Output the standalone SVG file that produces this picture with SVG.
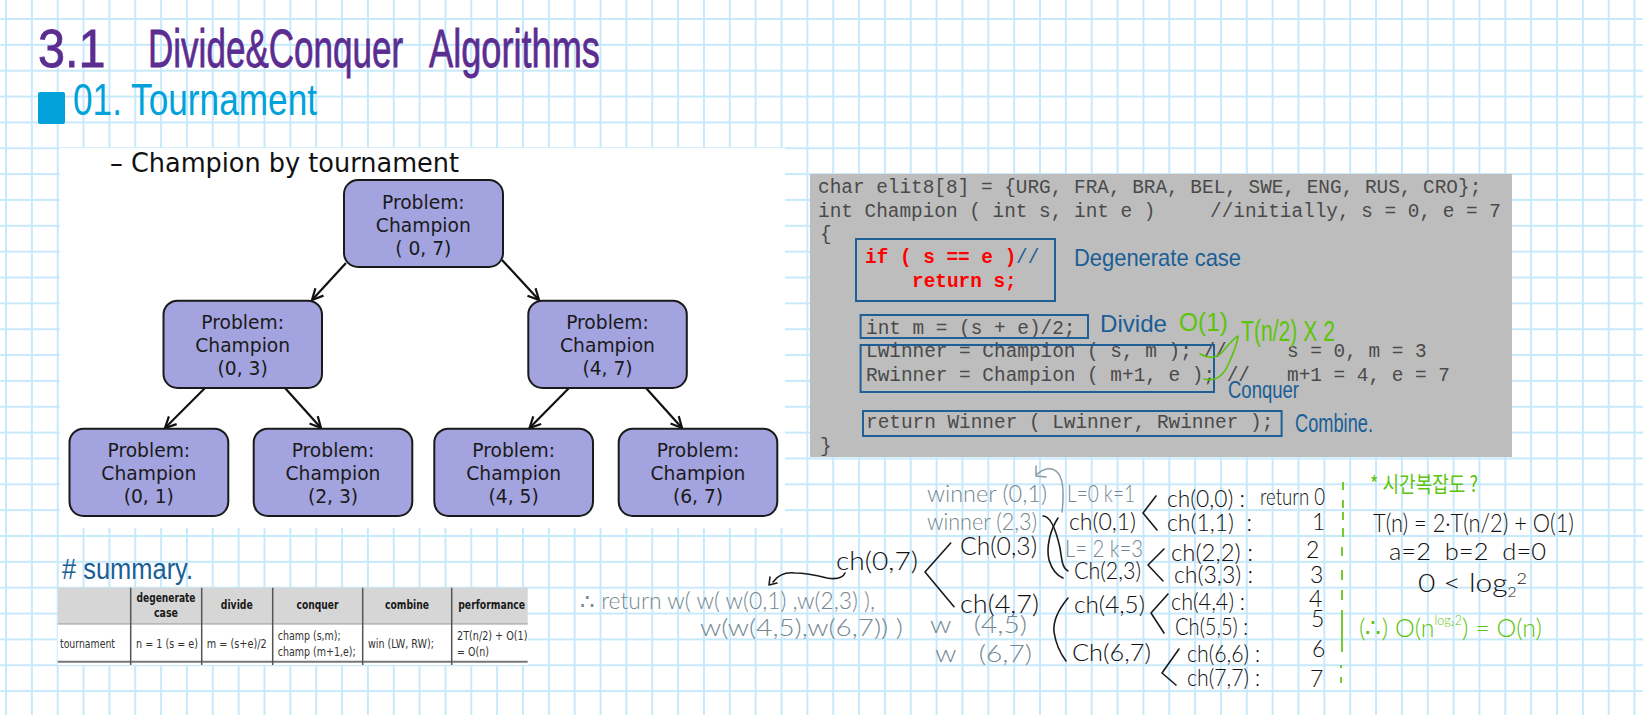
<svg xmlns="http://www.w3.org/2000/svg" width="1643" height="715" viewBox="0 0 1643 715">
<style>
text{white-space:pre}
.hw{font-family:"Liberation Sans",Arial,sans-serif}
.lt{font-family:Lato,"Liberation Sans",sans-serif;font-weight:300}
.dv{font-family:"DejaVu Sans",sans-serif}
.mono{font-family:"Liberation Mono",monospace;font-size:19.4px;fill:#4a4a4a}
.red{font-weight:700;fill:#ff0000}
.node rect{fill:#a3a3df;stroke:#1a1a1a;stroke-width:2}
.node text{font-family:"DejaVu Sans",sans-serif;font-size:18.7px;fill:#1a1a1a;text-anchor:middle}
.edge{fill:none;stroke:#111;stroke-width:2.2;marker-end:url(#arr)}
.bx{fill:none;stroke:#1f5f96;stroke-width:2}
.blue{fill:#1a5e96;font-size:24px}
.green{fill:#5cc40a;font-size:24px}
.gray{fill:#748790;font-size:23px}
.blk{fill:#111;font-size:23px}
.pk{fill:none;stroke:#1a1a1a;stroke-width:1.6;stroke-linecap:round;stroke-linejoin:round}
.th{font-family:"DejaVu Sans",sans-serif;font-size:12px;font-weight:700;fill:#1a1a1a;text-anchor:middle}
.td{font-family:"DejaVu Sans",sans-serif;font-size:11.5px;fill:#333}
.sep{stroke:#555;stroke-width:1.5}
</style>
<defs>
<pattern id="grid" patternUnits="userSpaceOnUse" x="6" y="19" width="25.85" height="25.85">
<path d="M0 0V25.85M25.85 0V25.85M0 0H25.85M0 25.85H25.85" fill="none" stroke="#c8e9fb" stroke-width="2"/>
</pattern>
<marker id="arr" markerUnits="userSpaceOnUse" markerWidth="16" markerHeight="16" refX="12" refY="6.500" orient="auto">
<path d="M1 1L12 6.500L1 12" fill="none" stroke="#111" stroke-width="2.200"/>
</marker>
</defs>
<rect width="1643" height="715" fill="#ffffff"/>
<rect width="1643" height="715" fill="url(#grid)"/>

<g id="title">
<text class="hw" transform="matrix(.9 0 0 1 38 67)" font-size="54" fill="#5b2d91" stroke="#5b2d91" stroke-width=".8">3.1</text>
<text class="hw" transform="matrix(.649 0 0 1 148 67)" font-size="54" fill="#5b2d91" stroke="#5b2d91" stroke-width=".8">Divide&amp;Conquer</text>
<text class="hw" transform="matrix(.67 0 0 1 429 67)" font-size="54" fill="#5b2d91" stroke="#5b2d91" stroke-width=".8">Algorithms</text>
<rect x="38" y="92" width="27" height="32" rx="2" fill="#00a2d9"/>
<text class="hw" x="73" y="115" font-size="44" fill="#00a2d9" textLength="244" lengthAdjust="spacingAndGlyphs">01. Tournament</text>
</g>

<rect x="60" y="148" width="725" height="380" fill="#ffffff"/>
<text class="dv" x="110" y="172" font-size="26" fill="#111" textLength="349" lengthAdjust="spacingAndGlyphs">– Champion by tournament</text>

<g id="connectors">
<path class="edge" d="M346 263L312 300"/>
<path class="edge" d="M502 260L539 300"/>
<path class="edge" d="M205 388L165 428"/>
<path class="edge" d="M285 388L321 428"/>
<path class="edge" d="M569 388L529.500 428"/>
<path class="edge" d="M646 388L682 428"/>
</g>
<g id="n07" class="node"><rect x="344" y="180" width="159" height="87" rx="14"/><text x="423.300" y="209">Problem:</text><text x="423.300" y="232">Champion</text><text x="423.300" y="255">( 0, 7)</text></g>
<g id="n03" class="node"><rect x="163.500" y="300.700" width="158.500" height="87.300" rx="14"/><text x="242.700" y="329">Problem:</text><text x="242.700" y="352">Champion</text><text x="242.700" y="375">(0, 3)</text></g>
<g id="n47" class="node"><rect x="528.300" y="300.700" width="158.500" height="87.300" rx="14"/><text x="607.500" y="329">Problem:</text><text x="607.500" y="352">Champion</text><text x="607.500" y="375">(4, 7)</text></g>
<g id="n01" class="node"><rect x="69.500" y="428.700" width="158.800" height="87.300" rx="14"/><text x="148.800" y="457">Problem:</text><text x="148.800" y="480">Champion</text><text x="148.800" y="503">(0, 1)</text></g>
<g id="n23" class="node"><rect x="253.700" y="428.700" width="158.600" height="87.300" rx="14"/><text x="333" y="457">Problem:</text><text x="333" y="480">Champion</text><text x="333" y="503">(2, 3)</text></g>
<g id="n45" class="node"><rect x="434.300" y="428.700" width="158.700" height="87.300" rx="14"/><text x="513.700" y="457">Problem:</text><text x="513.700" y="480">Champion</text><text x="513.700" y="503">(4, 5)</text></g>
<g id="n67" class="node"><rect x="618.700" y="428.700" width="158.600" height="87.300" rx="14"/><text x="698" y="457">Problem:</text><text x="698" y="480">Champion</text><text x="698" y="503">(6, 7)</text></g>

<g id="code">
<rect x="810" y="174" width="702" height="283" fill="#bdbdbd"/>
<text class="mono" x="818" y="193">char elit8[8] = {URG, FRA, BRA, BEL, SWE, ENG, RUS, CRO};</text>
<text class="mono" x="818" y="216.700">int Champion ( int s, int e )<tspan x="1210">//initially, s = 0, e = 7</tspan></text>
<text class="mono" x="820" y="240">{</text>
<text class="mono red" x="865" y="263">if ( s == e )</text>
<text class="mono" x="1016" y="263" style="fill:#1f5f96">//</text>
<text class="mono red" x="912" y="287">return s;</text>
<text class="mono" x="866" y="334">int m = (s + e)/2;</text>
<text class="mono" x="866" y="357">Lwinner = Champion ( s, m ); //</text>
<text class="mono" x="1287" y="357">s = 0, m = 3</text>
<text class="mono" x="866" y="381">Rwinner = Champion ( m+1, e ); //</text>
<text class="mono" x="1287" y="381">m+1 = 4, e = 7</text>
<text class="mono" x="866" y="428">return Winner ( Lwinner, Rwinner );</text>
<text class="mono" x="820" y="452">}</text>
<rect class="bx" x="856" y="239" width="199" height="62"/>
<rect class="bx" x="860.600" y="315" width="227.400" height="23"/>
<rect class="bx" x="860.600" y="345" width="353.400" height="47"/>
<rect class="bx" x="863" y="411" width="418.600" height="25"/>
<text class="hw blue" x="1074" y="266" textLength="167" lengthAdjust="spacingAndGlyphs">Degenerate case</text>
<text class="hw blue" x="1100" y="332" textLength="67" lengthAdjust="spacingAndGlyphs">Divide</text>
<text class="hw green" x="1179" y="331" textLength="49" lengthAdjust="spacingAndGlyphs" style="font-size:26px">O(1)</text>
<text class="hw green" x="1241" y="341" textLength="94" lengthAdjust="spacingAndGlyphs" style="font-size:29px">T(n/2) X 2</text>
<text class="hw blue" x="1228" y="398" textLength="71" lengthAdjust="spacingAndGlyphs">Conquer</text>
<text class="hw blue" x="1295" y="432" textLength="78" lengthAdjust="spacingAndGlyphs" style="font-size:26px">Combine.</text>
<path d="M1200 354Q1215 362 1224 350Q1234 338 1238 336M1204 379Q1220 383 1228 365Q1236 348 1238 337" fill="none" stroke="#5cc40a" stroke-width="1.6" stroke-linecap="round"/>
</g>

<g id="summary">
<text class="hw" x="62" y="579" font-size="30" fill="#1a5e96" textLength="131" lengthAdjust="spacingAndGlyphs"># summary.</text>
<rect x="57.700" y="587.700" width="470" height="36.300" fill="#d6d6d6"/>
<rect x="57.700" y="624" width="470" height="41" fill="#ffffff"/>
<path d="M57.700 624H527.700" stroke="#999" stroke-width="1"/>
<path d="M57.700 661.700H527.700" stroke="#777" stroke-width="2"/>
<path class="sep" d="M130.700 587.700V665M201.700 587.700V665M272.700 587.700V665M362.700 587.700V665M451.700 587.700V665"/>
<text class="th" x="166" y="602" textLength="59" lengthAdjust="spacingAndGlyphs">degenerate</text>
<text class="th" x="166" y="617" textLength="24" lengthAdjust="spacingAndGlyphs">case</text>
<text class="th" x="236.800" y="609" textLength="32" lengthAdjust="spacingAndGlyphs">divide</text>
<text class="th" x="317.500" y="609" textLength="42" lengthAdjust="spacingAndGlyphs">conquer</text>
<text class="th" x="407" y="609" textLength="44" lengthAdjust="spacingAndGlyphs">combine</text>
<text class="th" x="491.700" y="609" textLength="67" lengthAdjust="spacingAndGlyphs">performance</text>
<text class="td" x="60" y="648" textLength="55" lengthAdjust="spacingAndGlyphs">tournament</text>
<text class="td" x="136" y="648" textLength="62" lengthAdjust="spacingAndGlyphs">n = 1 (s = e)</text>
<text class="td" x="206.700" y="648" textLength="60" lengthAdjust="spacingAndGlyphs">m = (s+e)/2</text>
<text class="td" x="277.700" y="640" textLength="63" lengthAdjust="spacingAndGlyphs">champ (s,m);</text>
<text class="td" x="277.700" y="656" textLength="78" lengthAdjust="spacingAndGlyphs">champ (m+1,e);</text>
<text class="td" x="368" y="648" textLength="66" lengthAdjust="spacingAndGlyphs">win (LW, RW);</text>
<text class="td" x="457" y="640" textLength="70.500" lengthAdjust="spacingAndGlyphs">2T(n/2) + O(1)</text>
<text class="td" x="457" y="656" textLength="32" lengthAdjust="spacingAndGlyphs">= O(n)</text>
</g>

<g id="notes-gray">
<text class="lt gray" x="580" y="609" textLength="295" lengthAdjust="spacingAndGlyphs">∴ return w( w( w(0,1) ,w(2,3) ),</text>
<text class="lt gray" x="700" y="636" textLength="203" lengthAdjust="spacingAndGlyphs">w(w(4,5),w(6,7)) )</text>
<text class="lt gray" x="927" y="502" textLength="120" lengthAdjust="spacingAndGlyphs">winner (0,1)</text>
<text class="lt gray" x="927" y="530" textLength="110" lengthAdjust="spacingAndGlyphs">winner (2,3)</text>
<text class="lt gray" x="1067" y="502" textLength="68" lengthAdjust="spacingAndGlyphs">L=0 k=1</text>
<text class="lt gray" x="1065" y="557" textLength="78" lengthAdjust="spacingAndGlyphs">L= 2 k=3</text>
<text class="lt gray" x="930" y="633" textLength="97" lengthAdjust="spacingAndGlyphs">w   (4,5)</text>
<text class="lt gray" x="935" y="662" textLength="97" lengthAdjust="spacingAndGlyphs">w   (6,7)</text>
</g>

<g id="notes-black">
<text class="lt blk" x="836" y="570" textLength="82" lengthAdjust="spacingAndGlyphs" style="font-size:25px">ch(0,7)</text>
<text class="lt blk" x="960" y="555" textLength="77" lengthAdjust="spacingAndGlyphs" style="font-size:25px">Ch(0,3)</text>
<text class="lt blk" x="960" y="613" textLength="79" lengthAdjust="spacingAndGlyphs" style="font-size:25px">ch(4,7)</text>
<text class="lt blk" x="1069" y="530" textLength="67" lengthAdjust="spacingAndGlyphs">ch(0,1)</text>
<text class="lt blk" x="1074" y="579" textLength="67" lengthAdjust="spacingAndGlyphs">Ch(2,3)</text>
<text class="lt blk" x="1074" y="613" textLength="71" lengthAdjust="spacingAndGlyphs">ch(4,5)</text>
<text class="lt blk" x="1072" y="661" textLength="79" lengthAdjust="spacingAndGlyphs">Ch(6,7)</text>
<text class="lt blk" x="1167" y="507" textLength="78" lengthAdjust="spacingAndGlyphs">ch(0,0) :</text>
<text class="lt blk" x="1260" y="505" textLength="65" lengthAdjust="spacingAndGlyphs">return 0</text>
<text class="lt blk" x="1167" y="531" textLength="85" lengthAdjust="spacingAndGlyphs">ch(1,1)  :</text>
<text class="lt blk" x="1312" y="530">1</text>
<text class="lt blk" x="1171" y="561" textLength="82" lengthAdjust="spacingAndGlyphs">ch(2,2) :</text>
<text class="lt blk" x="1306" y="558">2</text>
<text class="lt blk" x="1174" y="583" textLength="79" lengthAdjust="spacingAndGlyphs">ch(3,3) :</text>
<text class="lt blk" x="1310" y="583">3</text>
<text class="lt blk" x="1171" y="610" textLength="74" lengthAdjust="spacingAndGlyphs">ch(4,4) :</text>
<text class="lt blk" x="1309" y="607">4</text>
<text class="lt blk" x="1175" y="635" textLength="73" lengthAdjust="spacingAndGlyphs">Ch(5,5) :</text>
<text class="lt blk" x="1311" y="627">5</text>
<text class="lt blk" x="1187" y="662" textLength="73" lengthAdjust="spacingAndGlyphs">ch(6,6) :</text>
<text class="lt blk" x="1312" y="657">6</text>
<text class="lt blk" x="1187" y="686" textLength="73" lengthAdjust="spacingAndGlyphs">ch(7,7) :</text>
<text class="lt blk" x="1310" y="687">7</text>
<path class="pk" d="M950.700 543L925 572L954 606.700"/>
<path class="pk" d="M1156 496L1143 513L1157 530"/>
<path class="pk" d="M1164 549L1148 565L1163 581"/>
<path class="pk" d="M1168 594L1151 613L1164 633"/>
<path class="pk" d="M1179 649L1162 673L1176 685"/>
<path class="pk" d="M1058 518C1050 530 1046 548 1049 560C1052 570 1056 575 1063 578"/>
<path class="pk" d="M1043 516C1050 516 1056 530 1060 548C1062 560 1062 568 1068 571"/>
<path class="pk" d="M1068 598C1058 610 1053 622 1054 632C1056 645 1060 653 1066 661"/>
<path class="pk" d="M845 573C842 580 833 579 827 578C815 575 805 573 795 573C785 572 778 575 773 582M770 577L769 585L777 583"/>
<path d="M1062 512C1064 495 1064 480 1058 473C1052 466 1044 468 1036 475M1036 466L1036 476L1046 477" fill="none" stroke="#8a9ca5" stroke-width="1.5" stroke-linecap="round"/>
</g>

<g id="notes-green">
<path d="M1343 482v8M1343 500v8M1343 512v8M1343 528v9M1342 547v9M1342 570v10M1342 590v10M1342 610v42M1341 665v3M1341 677v6" fill="none" stroke="#5cc40a" stroke-width="1.7"/>
<text x="1370" y="492" font-size="22" fill="#5cc40a" font-family="'Noto Sans CJK KR',sans-serif" textLength="108" lengthAdjust="spacingAndGlyphs">* 시간복잡도 ?</text>
<text class="lt green" x="1359" y="637" textLength="183" lengthAdjust="spacingAndGlyphs" style="font-size:26px">(∴) O(n<tspan font-size="13" dy="-12">log₂2</tspan><tspan dy="12">) = O(n)</tspan></text>
<text class="lt blk" x="1373" y="532" textLength="201" lengthAdjust="spacingAndGlyphs" style="font-size:25px">T(n) = 2·T(n/2) + O(1)</text>
<text class="lt blk" x="1389" y="560" textLength="157" lengthAdjust="spacingAndGlyphs">a=2  b=2  d=0</text>
<text class="lt blk" x="1418" y="592" textLength="109" lengthAdjust="spacingAndGlyphs" style="font-size:25px">0 &lt; log<tspan font-size="13" dy="5">2</tspan><tspan font-size="15" dy="-13">2</tspan></text>
</g>
</svg>
